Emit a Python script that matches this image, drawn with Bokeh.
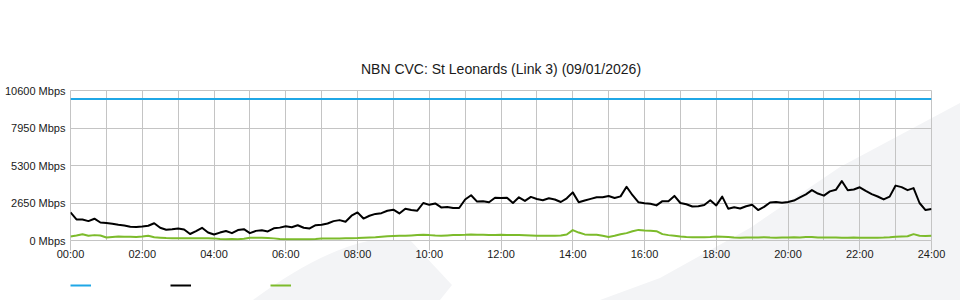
from urllib.parse import quote

from bokeh.plotting import figure
from bokeh.layouts import column
from bokeh.models import FixedTicker, Legend, LegendItem
from bokeh.embed import file_html
from bokeh.resources import INLINE

# ---------------- data ----------------
title_text = "NBN CVC: St Leonards (Link 3) (09/01/2026)"
step_minutes = 10
n_samples = 145
times_h = [i * step_minutes / 60 for i in range(n_samples)]

link_capacity_mbps = 10000

traffic_in_mbps = [
    1985, 1490, 1480, 1370, 1540, 1270,
    1230, 1180, 1110, 1060, 970, 960,
    990, 1040, 1220, 900, 760, 790,
    850, 780, 460, 660, 900, 570,
    420, 560, 670, 520, 740, 800,
    520, 680, 720, 640, 860, 910,
    1000, 940, 1080, 900, 850, 1080,
    1110, 1200, 1370, 1440, 1320, 1750,
    1985, 1550, 1750, 1880, 1930, 2100,
    2175, 1910, 2250, 2160, 2110, 2650,
    2520, 2620, 2340, 2370, 2300, 2300,
    2900, 3200, 2750, 2780, 2700, 3020,
    3000, 3020, 2650, 3055, 2800, 3080,
    2935, 2850, 2980, 2900, 2720, 2980,
    3400, 2700, 2830, 2940, 3050, 3055,
    3140, 3000, 3120, 3800, 3200, 2695,
    2640, 2600, 2480, 2780, 2780, 3150,
    2650, 2560, 2400, 2420, 2510, 2840,
    2480, 3100, 2250, 2350, 2260, 2420,
    2520, 2150, 2380, 2690, 2720, 2660,
    2720, 2820, 3040, 3260, 3560, 3320,
    3170, 3470, 3580, 4200, 3550, 3600,
    3760, 3500, 3280, 3110, 2900, 3100,
    3880, 3770, 3560, 3700, 2650, 2150,
    2225,
]

traffic_out_mbps = [
    280, 350, 440, 330, 380, 350,
    210, 250, 280, 270, 260, 255,
    280, 330, 230, 200, 170, 160,
    160, 160, 160, 160, 160, 160,
    150, 100, 90, 100, 90, 130,
    200, 200, 190, 185, 150, 100,
    90, 90, 90, 90, 90, 100,
    140, 140, 150, 150, 160, 160,
    170, 190, 210, 230, 270, 305,
    320, 330, 330, 360, 380, 400,
    380, 350, 330, 360, 380, 390,
    400, 420, 410, 400, 380, 390,
    400, 390, 385, 380, 370, 350,
    330, 330, 330, 330, 350, 420,
    735, 560, 430, 410, 400, 330,
    255, 330, 440, 520, 650, 750,
    700, 690, 660, 450, 380, 340,
    280, 250, 230, 230, 230, 250,
    280, 260, 240, 210, 200, 210,
    220, 210, 230, 210, 200, 210,
    220, 230, 220, 240, 250, 220,
    210, 220, 210, 200, 190, 210,
    200, 190, 200, 200, 210, 230,
    260, 280, 300, 450, 340, 320,
    330,
]

x_tick_hours = list(range(0, 25, 2))
x_tick_labels = ["00:00", "02:00", "04:00", "06:00", "08:00", "10:00", "12:00",
                 "14:00", "16:00", "18:00", "20:00", "22:00", "24:00"]
y_tick_values = [0, 2650, 5300, 7950, 10600]
y_tick_labels = ["0 Mbps", "2650 Mbps", "5300 Mbps", "7950 Mbps", "10600 Mbps"]

# ---------------- styling ----------------
FONT = "Liberation Sans"
GRID = "#c4c4c4"
BLUE = "#1fa7e6"
BLACK = "#000000"
GREEN = "#7cbb2b"
WATERMARK = "#f3f4f6"
series = [
    ([times_h[0], times_h[-1]], [link_capacity_mbps, link_capacity_mbps], BLUE),
    (times_h, traffic_in_mbps, BLACK),
    (times_h, traffic_out_mbps, GREEN),
]

p = figure(
    width=960, height=270,
    x_range=(0, 24), y_range=(0, y_tick_values[-1]),
    output_backend="svg", toolbar_location=None,
    min_border_left=70, min_border_right=29,
    min_border_top=90, min_border_bottom=30,
)
p.background_fill_alpha = 0
p.border_fill_alpha = 0

p.title.text = title_text
p.title.align = "center"
p.title.offset = -20
p.title.standoff = 28
p.title.text_font = FONT
p.title.text_font_size = "14px"
p.title.text_font_style = "normal"
p.title.text_color = "#1a1a1a"

p.outline_line_color = GRID
p.outline_line_width = 1

# axes
p.xaxis.ticker = FixedTicker(ticks=x_tick_hours, minor_ticks=[])
p.xaxis.major_label_overrides = {h: lab for h, lab in zip(x_tick_hours, x_tick_labels)}
p.xaxis.axis_line_color = None
p.xaxis.major_tick_in = 0
p.xaxis.major_tick_out = 10
p.xaxis.minor_tick_in = 0
p.xaxis.minor_tick_out = 0
p.xaxis.major_tick_line_color = GRID
p.xaxis.minor_tick_line_color = None
p.xaxis.major_label_standoff = -3
p.xaxis.major_label_text_font = FONT
p.xaxis.major_label_text_font_size = "11px"
p.xaxis.major_label_text_color = "#1a1a1a"

p.yaxis.ticker = FixedTicker(ticks=y_tick_values, minor_ticks=[])
p.yaxis.major_label_overrides = {v: lab for v, lab in zip(y_tick_values, y_tick_labels)}
p.yaxis.axis_line_color = None
p.yaxis.major_tick_in = 0
p.yaxis.major_tick_out = 0
p.yaxis.minor_tick_in = 0
p.yaxis.minor_tick_out = 0
p.yaxis.major_tick_line_color = None
p.yaxis.minor_tick_line_color = None
p.yaxis.major_label_standoff = 5
p.yaxis.major_label_text_font = FONT
p.yaxis.major_label_text_font_size = "11px"
p.yaxis.major_label_text_color = "#1a1a1a"
p.yaxis.major_label_text_baseline = "alphabetic"

# grid
p.xgrid.ticker = FixedTicker(ticks=list(range(0, 25)))
p.xgrid.grid_line_color = GRID
p.xgrid.grid_line_width = 1
p.ygrid.grid_line_color = GRID
p.ygrid.grid_line_width = 1

for xs, ys, col in series:
    p.line(xs, ys, line_color=col, line_width=2, line_join="round")

# ---------------- legend strip (label-less swatches, as in the reference) ----------------
leg = figure(
    width=960, height=30,
    x_range=(0, 24), y_range=(-20000, -10000),
    x_axis_type=None, y_axis_type=None,
    output_backend="svg", toolbar_location=None,
    min_border_left=70, min_border_right=29, min_border_top=0, min_border_bottom=0,
)
leg.background_fill_alpha = 0
leg.border_fill_alpha = 0
leg.outline_line_color = None
leg.grid.visible = False
# same series, kept out of view; they only feed the legend swatches
swatches = [leg.line(xs, ys, line_color=col, line_width=2) for xs, ys, col in series]

legend = Legend(
    items=[LegendItem(label=" ", renderers=[r]) for r in swatches],
    orientation="horizontal",
    location=(0, 10),
    glyph_width=21, glyph_height=10,
    label_standoff=0, label_width=79, label_height=10,
    spacing=0, padding=0, margin=0,
    border_line_color=None, background_fill_alpha=0,
    label_text_font_size="8px", label_text_alpha=0,
)
leg.add_layout(legend, "center")

layout = column(p, leg, spacing=0)

# faint page watermark shapes behind the transparent canvases
svg_bg = (
    "<svg xmlns='http://www.w3.org/2000/svg' width='960' height='300'>"
    f"<path d='M253,300 Q318,252 368,241 L410,240 L452,285 L440,300 Z' fill='{WATERMARK}'/>"
    f"<path d='M600,300 L660,278 L750,228 L840,167 L960,103 L960,300 Z' fill='{WATERMARK}'/>"
    "</svg>"
)
layout.styles = {
    "background-color": "#ffffff",
    "background-image": f'url("data:image/svg+xml;charset=utf-8,{quote(svg_bg)}")',
    "background-repeat": "no-repeat",
    "background-size": "960px 300px",
    "background-position": "0 0",
}

open("out.html", "w").write(file_html(layout, INLINE))
